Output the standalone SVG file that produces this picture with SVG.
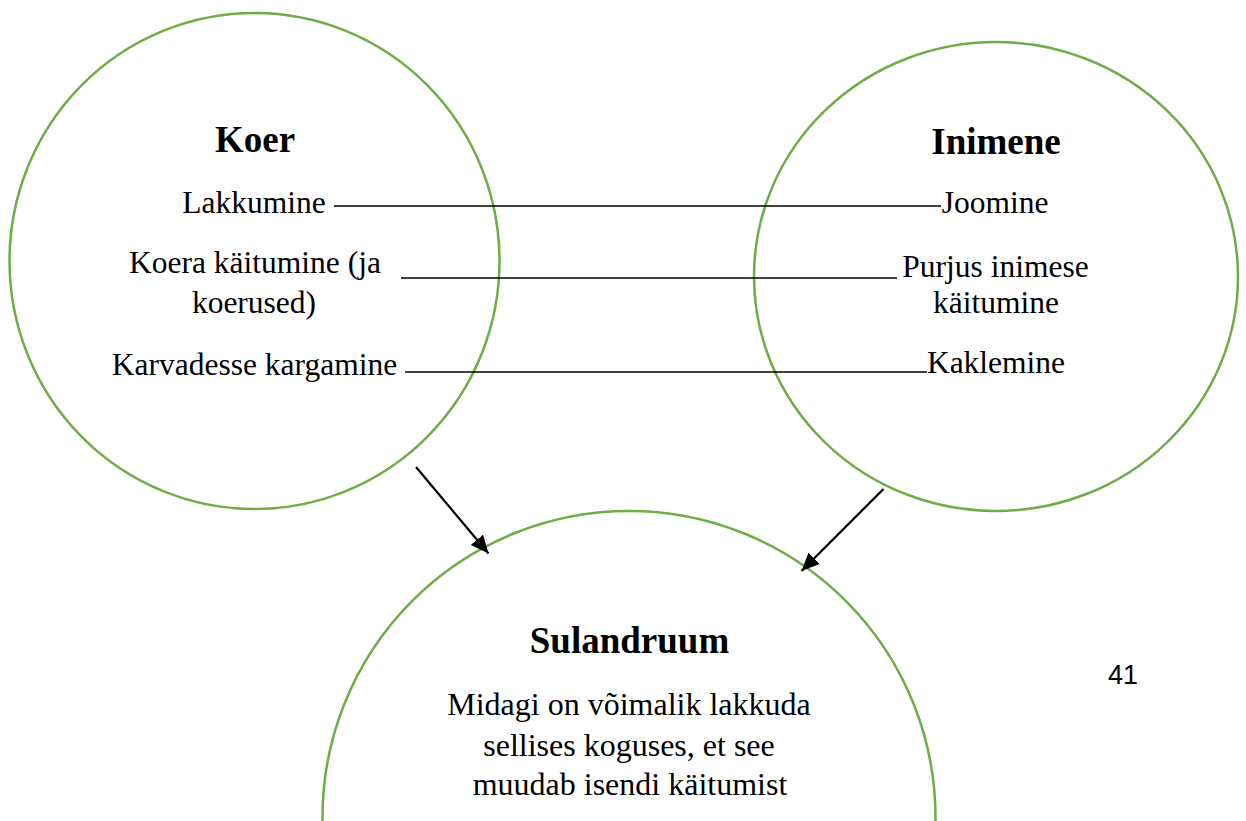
<svg xmlns="http://www.w3.org/2000/svg" width="1246" height="821" viewBox="0 0 1246 821">
<style>
.circ{fill:none;stroke:#70AD47;stroke-width:2.5}
.t{font-family:"Liberation Serif","Times New Roman",serif;font-size:31.5px;fill:#000;text-anchor:middle}
.h{font-family:"Liberation Serif","Times New Roman",serif;font-size:37px;font-weight:bold;fill:#000;text-anchor:middle}
.ln{stroke:#000;stroke-width:1.3;fill:none}
.ar{stroke:#000;stroke-width:2.2;fill:none;marker-end:url(#ah)}
</style>
<defs>
<marker id="ah" markerUnits="userSpaceOnUse" markerWidth="18" markerHeight="16" viewBox="0 0 18 16" refX="18" refY="8" orient="auto">
<path d="M0,0 L18,8 L0,16 z" fill="#000"/>
</marker>
</defs>
<rect width="1246" height="821" fill="#fff"/>
<g id="koer">
<ellipse class="circ" cx="254.5" cy="261" rx="245" ry="248"/>
<text class="h" x="255" y="152">Koer</text>
<text class="t" x="254" y="213">Lakkumine</text>
<text class="t" x="255" y="273">Koera käitumine (ja</text>
<text class="t" x="254" y="313">koerused)</text>
<text class="t" x="254.5" y="375">Karvadesse kargamine</text>
</g>
<g id="inimene">
<ellipse class="circ" cx="996" cy="276.5" rx="242" ry="234.5"/>
<text class="h" x="996" y="154">Inimene</text>
<text class="t" x="995" y="213">Joomine</text>
<text class="t" x="995.5" y="277">Purjus inimese</text>
<text class="t" x="996" y="313">käitumine</text>
<text class="t" x="996" y="373">Kaklemine</text>
</g>
<g id="sulandruum">
<circle class="circ" cx="629" cy="817.5" r="306.5"/>
<text class="h" x="629.5" y="653">Sulandruum</text>
<text class="t" x="629" y="715" style="font-size:32px">Midagi on võimalik lakkuda</text>
<text class="t" x="629" y="755.5" style="font-size:32px">sellises koguses, et see</text>
<text class="t" x="630" y="795" style="font-size:32px">muudab isendi käitumist</text>
</g>
<g id="connectors">
<line class="ln" x1="334" y1="206" x2="941" y2="206"/>
<line class="ln" x1="401" y1="278" x2="897" y2="278"/>
<line class="ln" x1="405" y1="372" x2="927" y2="372"/>
<line class="ar" x1="416" y1="467" x2="488.5" y2="553.5"/>
<line class="ar" x1="883.5" y1="489" x2="801.5" y2="571"/>
</g>
<g id="page-number">
<text x="1123" y="684" style="font-family:'Liberation Sans',Arial,sans-serif;font-size:27px;fill:#000;text-anchor:middle">41</text>
</g>
</svg>
